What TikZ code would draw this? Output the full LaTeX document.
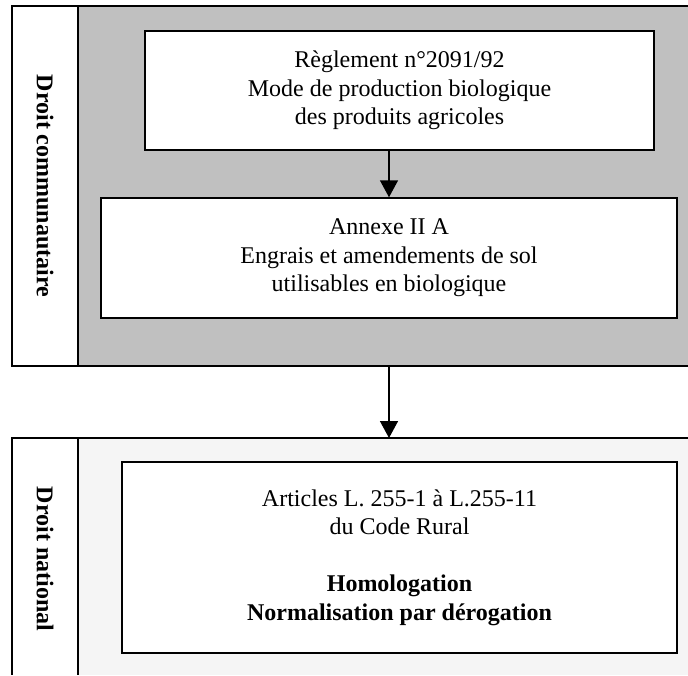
\documentclass[tikz,border=0pt]{standalone}
\usepackage{fontspec}
\setmainfont{Liberation Serif}
\usepackage{xcolor}
\usetikzlibrary{arrows.meta,positioning,calc}

\definecolor{eugray}{RGB}{192,192,192}
\definecolor{natgray}{RGB}{245,245,245}

\begin{document}
\begin{tikzpicture}[
        x=1pt, y=-1pt,
        font=\fontsize{24}{28.5}\selectfont,
        textbox/.style={
            draw,
            line width=1.5pt,
            align=center,
            fill=white,
            inner sep=0pt
        },
        panelline/.style={line width=1.6pt},
        sidelabel/.style={
            rotate=-90,
            font=\fontsize{24}{28.5}\selectfont\bfseries
        },
        flow/.style={-{Triangle[length=17pt,width=18pt]}, line width=1.5pt}
    ]
    \useasboundingbox (0,0) rectangle (688,675);

    % panels
    \fill[eugray] (78,6) rectangle (688,366);
    \fill[natgray] (78,438) rectangle (688,675);
    \draw[panelline] (688,6) -- (12,6) -- (12,366) -- (688,366);
    \draw[panelline] (78,6) -- (78,366);
    \draw[panelline] (688,438) -- (12,438) -- (12,675);
    \draw[panelline] (78,438) -- (78,675);
    \coordinate (eubottom) at (389,366);
    \coordinate (nattop) at (389,438);

    \node[sidelabel] (eulabel) at (45,186) {Droit communautaire};
    \node[sidelabel] (natlabel) at (45,559) {Droit national};

    \node[textbox, minimum width=509pt, minimum height=119pt] (reglement) at (399.5,90.5)
        {R\`eglement n\textdegree2091/92\\Mode de production biologique\\des produits agricoles};
    \node[textbox, minimum width=576pt, minimum height=120pt] (annexe) at (389,258)
        {Annexe II A\\Engrais et amendements de sol\\utilisables en biologique};
    \node[textbox, minimum width=555pt, minimum height=191pt] (coderural) at (399.5,557.5)
        {Articles L. 255-1 \`a L.255-11\\du Code Rural\\[28.5pt]\textbf{Homologation}\\\textbf{Normalisation par d\'erogation}};

    \draw[flow] (reglement.south -| annexe.north) -- (annexe.north);
    \draw[flow] (eubottom) -- (nattop);

\end{tikzpicture}
\end{document}
